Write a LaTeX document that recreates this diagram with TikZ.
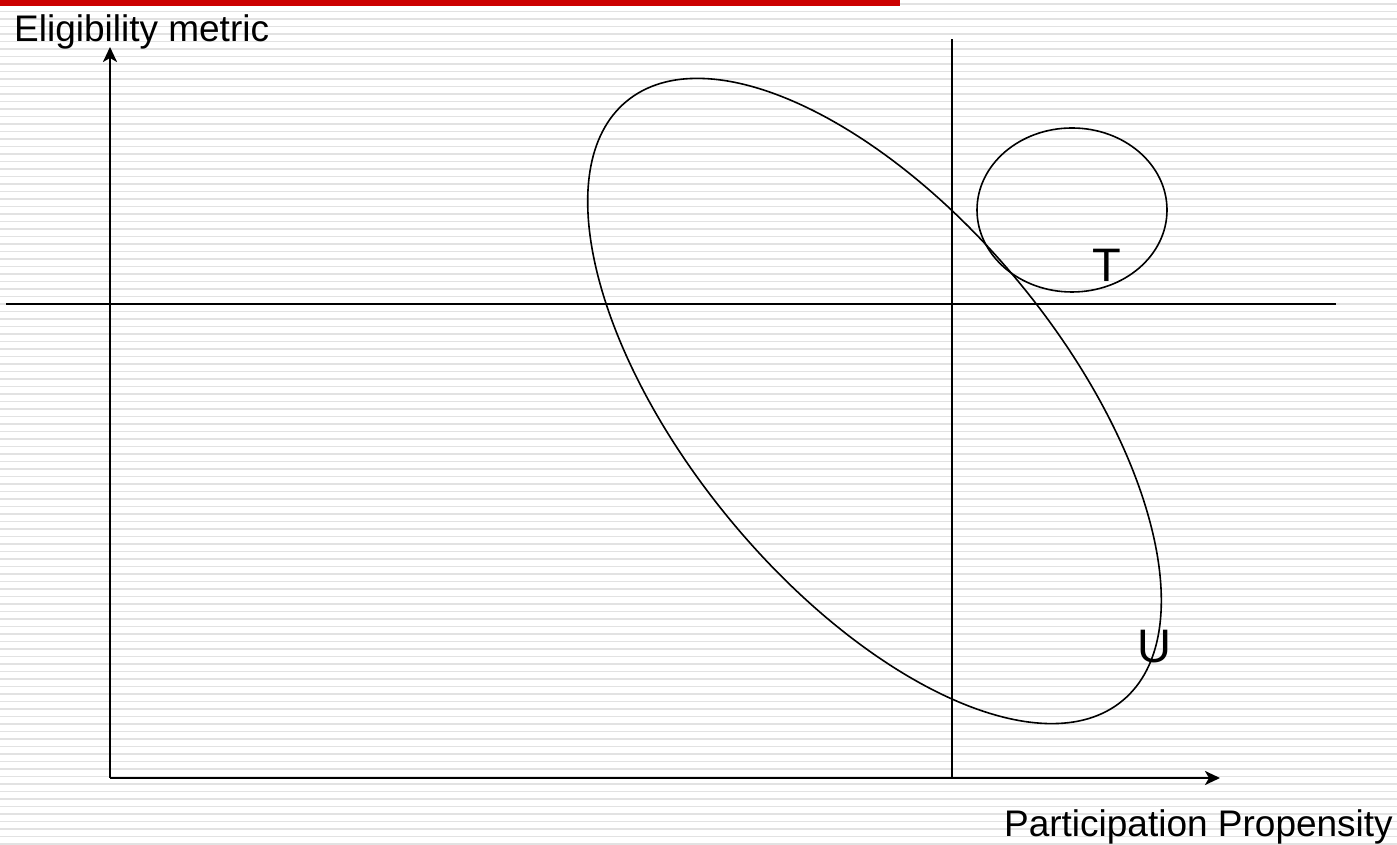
\documentclass[tikz,border=0pt]{standalone}
\usepackage{fontspec}
\setmainfont{Liberation Sans}
\usetikzlibrary{arrows.meta}
\definecolor{barred}{HTML}{CC0000}
\definecolor{stripe}{HTML}{E2E2E2}
\begin{document}
\begin{tikzpicture}[x=1pt,y=1pt,
  axis/.style={line width=2.6pt,-{Stealth[length=15pt,width=14pt,inset=4pt]}},
  thinline/.style={line width=1.6pt},
  curve/.style={line width=1.6pt},
  lbl/.style={font=\fontsize{37}{42}\selectfont,inner sep=0pt},
  biglbl/.style={font=\fontsize{47}{52}\selectfont,inner sep=0pt}]
\useasboundingbox (0,0) rectangle (1397,845);
\fill[white] (0,0) rectangle (1397,845);
\foreach \i in {0,...,112} {
  \draw[stripe,line width=1.6pt] (0,{845-4-7.5*\i}) -- (1397,{845-4-7.5*\i});
}
\fill[barred] (0,845) rectangle (900,839);
% coordinates
\coordinate (O) at (110,67);
\coordinate (Ytop) at (110,798);
\coordinate (Xend) at (1220,67);
\coordinate (Vtop) at (952,806);
\coordinate (Vbot) at (952,67);
\coordinate (Hl) at (6,541);
\coordinate (Hr) at (1336,541);
% lines
\draw[thinline] (Vbot) -- (Vtop);
\draw[thinline] (Hl) -- (Hr);
\draw[axis] (O) -- (Ytop);
\draw[axis] (O) -- (Xend);
% ellipses
\draw[curve,rotate around={-50.4:(874.5,444)}] (874.5,444) ellipse [x radius=389,y radius=187];
\draw[curve] (1072,635) ellipse [x radius=95,y radius=82];
% labels
\node[lbl,anchor=base west] (ylab) at (14,803) {Eligibility metric};
\node[lbl,anchor=base east] (xlab) at (1393,8) {Participation Propensity};
\node[biglbl,anchor=base] (T) at (1107,563) {T};
\node[biglbl,anchor=base] (U) at (1154,182) {U};
\end{tikzpicture}
\end{document}
